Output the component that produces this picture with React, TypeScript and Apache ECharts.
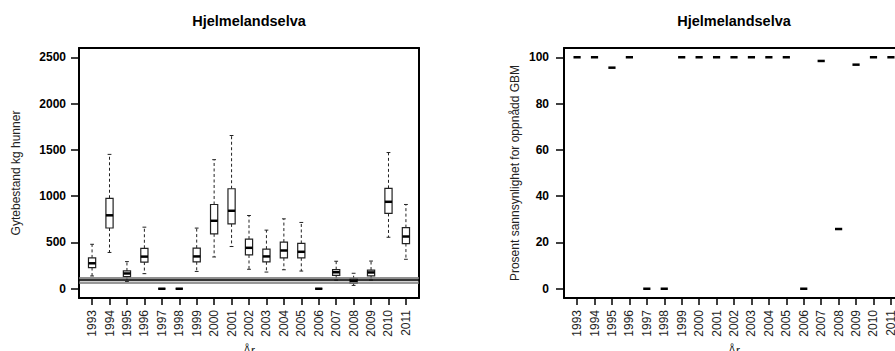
import React, { useEffect, useRef } from "react";
import * as echarts from "echarts";

const years = ["1993", "1994", "1995", "1996", "1997", "1998", "1999", "2000", "2001", "2002", "2003", "2004", "2005", "2006", "2007", "2008", "2009", "2010", "2011"];
const whiskerLow = [138, 392, 79, 163, 0, 0, 187, 343, 456, 210, 180, 205, 191, 0, 93, 36, 94, 556, 318];
const quartile1 = [229, 656, 130, 288, 0, 0, 291, 593, 700, 365, 291, 334, 334, 0, 144, 61, 140, 813, 488];
const medians = [275, 793, 165, 347, 0, 0, 349, 734, 842, 442, 349, 413, 399, 0, 178, 86, 176, 939, 564];
const quartile3 = [333, 977, 192, 437, 0, 0, 439, 910, 1080, 536, 428, 504, 489, 0, 206, 108, 202, 1084, 660];
const whiskerHigh = [480, 1451, 293, 665, 0, 0, 655, 1394, 1655, 791, 633, 755, 716, 0, 297, 167, 299, 1471, 910];
const probability = [100, 100, 95.5, 100, 0, 0, 100, 100, 100, 100, 100, 100, 100, 0, 98.4, 25.8, 96.8, 100, 100];
const targetLines = [70, 97, 124];
const stockTicks = [0, 500, 1000, 1500, 2000, 2500];
const probTicks = [0, 20, 40, 60, 80, 100];

const TITLE = "Hjelmelandselva";
const FONT = "'Liberation Sans', Arial, Helvetica, sans-serif";
const positions = years.map((_, i) => i + 1);

const HALF_BOX = 3.6;
const HALF_CAP = 1.9;

function renderBox(_params: any, api: any) {
  const x = api.value(0);
  const lo = api.coord([x, api.value(1)]);
  const q1 = api.coord([x, api.value(2)]);
  const md = api.coord([x, api.value(3)]);
  const q3 = api.coord([x, api.value(4)]);
  const hi = api.coord([x, api.value(5)]);
  const cx = md[0];
  const dash = { stroke: "#222", lineWidth: 1, lineDash: [3, 2.5] };
  const solid = { stroke: "#222", lineWidth: 1 };
  return {
    type: "group",
    children: [
      { type: "line", shape: { x1: cx, y1: q3[1], x2: cx, y2: hi[1] }, style: dash },
      { type: "line", shape: { x1: cx, y1: q1[1], x2: cx, y2: lo[1] }, style: dash },
      { type: "line", shape: { x1: cx - HALF_CAP, y1: hi[1], x2: cx + HALF_CAP, y2: hi[1] }, style: solid },
      { type: "line", shape: { x1: cx - HALF_CAP, y1: lo[1], x2: cx + HALF_CAP, y2: lo[1] }, style: solid },
      {
        type: "rect",
        shape: { x: cx - HALF_BOX, y: q3[1], width: 2 * HALF_BOX, height: q1[1] - q3[1] },
        style: { fill: "#fff", stroke: "#222", lineWidth: 1.2 },
      },
      { type: "line", shape: { x1: cx - HALF_BOX, y1: md[1], x2: cx + HALF_BOX, y2: md[1] }, style: { stroke: "#000", lineWidth: 2.5 } },
    ],
  };
}

function renderMedian(_params: any, api: any) {
  const p = api.coord([api.value(0), api.value(1)]);
  return {
    type: "line",
    shape: { x1: p[0] - HALF_BOX, y1: p[1], x2: p[0] + HALF_BOX, y2: p[1] },
    style: { stroke: "#000", lineWidth: 2.5 },
  };
}

const frameLine = { show: true, onZero: false, lineStyle: { color: "#000", width: 2 } };

function xAxisFor(gridIndex: number) {
  return {
    type: "value",
    gridIndex,
    position: "bottom",
    min: 0.25,
    max: 19.75,
    name: "År",
    nameLocation: "middle",
    nameGap: 47,
    nameTextStyle: { fontFamily: FONT, fontSize: 12, color: "#222" },
    axisLine: frameLine,
    splitLine: { show: false },
    axisTick: { show: true, length: 7, lineStyle: { color: "#000", width: 1.5 }, customValues: positions },
    axisLabel: {
      show: true,
      rotate: 90,
      margin: 12,
      fontFamily: FONT,
      fontSize: 12,
      color: "#222",
      customValues: positions,
      formatter: (v: number) => years[Math.round(v) - 1] ?? "",
    },
  };
}

function xFrameFor(gridIndex: number) {
  return {
    type: "value",
    gridIndex,
    position: "top",
    min: 0.25,
    max: 19.75,
    axisLine: frameLine,
    axisTick: { show: false },
    axisLabel: { show: false },
    splitLine: { show: false },
  };
}

function yAxisFor(gridIndex: number, min: number, max: number, ticks: number[], name: string, gap: number, margin: number) {
  return {
    type: "value",
    gridIndex,
    position: "left",
    min,
    max,
    name,
    nameLocation: "middle",
    nameGap: gap,
    nameTextStyle: { fontFamily: FONT, fontSize: 12, color: "#222" },
    axisLine: frameLine,
    splitLine: { show: false },
    axisTick: { show: true, length: 8, lineStyle: { color: "#000", width: 1.5 }, customValues: ticks },
    axisLabel: {
      show: true,
      margin,
      fontFamily: FONT,
      fontSize: 12,
      fontWeight: "bold",
      color: "#000",
      customValues: ticks,
      formatter: (v: number) => String(v),
    },
  };
}

function yFrameFor(gridIndex: number, min: number, max: number) {
  return {
    type: "value",
    gridIndex,
    position: "right",
    min,
    max,
    axisLine: frameLine,
    axisTick: { show: false },
    axisLabel: { show: false },
    splitLine: { show: false },
  };
}

export default function App() {
  const ref = useRef<HTMLDivElement>(null);
  useEffect(() => {
    if (!ref.current) return;
    const chart = echarts.init(ref.current, null, { renderer: "svg" });
    const boxData = years.map((_, i) => [i + 1, whiskerLow[i], quartile1[i], medians[i], quartile3[i], whiskerHigh[i]]);
    const probData = years.map((_, i) => [i + 1, probability[i]]);
    chart.setOption({
      animation: false,
      backgroundColor: "#fff",
      grid: [
        { left: 79, top: 48, width: 340, height: 250, outerBoundsMode: "none", containLabel: false },
        { left: 564, top: 48, width: 340, height: 250, outerBoundsMode: "none", containLabel: false },
      ],
      xAxis: [xAxisFor(0), xAxisFor(1), xFrameFor(0), xFrameFor(1)],
      yAxis: [
        yAxisFor(0, -100, 2600, stockTicks, "Gytebestand kg hunner", 57, 13),
        yAxisFor(1, -4, 104, probTicks, "Prosent sannsynlighet for oppnådd GBM", 43, 15),
        yFrameFor(0, -100, 2600),
        yFrameFor(1, -4, 104),
      ],
      graphic: [
        { type: "text", x: 249, y: 20.5, style: { text: TITLE, fontFamily: FONT, fontSize: 14.5, fontWeight: "bold", fill: "#000", textAlign: "center", textVerticalAlign: "middle" } },
        { type: "text", x: 734, y: 20.5, style: { text: TITLE, fontFamily: FONT, fontSize: 14.5, fontWeight: "bold", fill: "#000", textAlign: "center", textVerticalAlign: "middle" } },
      ],
      series: [
        {
          type: "custom",
          xAxisIndex: 0,
          yAxisIndex: 0,
          renderItem: renderBox,
          encode: { x: 0, y: [1, 2, 3, 4, 5] },
          data: boxData,
          silent: true,
          markLine: {
            silent: true,
            symbol: ["none", "none"],
            label: { show: false },
            z: 10,
            data: targetLines.map((v, i) => ({
              yAxis: v,
              lineStyle: { type: "solid", color: i === 1 ? "#000" : "#777", width: 1.5 },
            })),
          },
          markArea: {
            silent: true,
            itemStyle: { color: "rgba(150,150,150,0.45)" },
            data: [[{ yAxis: targetLines[0] }, { yAxis: targetLines[2] }]],
          },
        },
        {
          type: "custom",
          xAxisIndex: 1,
          yAxisIndex: 1,
          renderItem: renderMedian,
          encode: { x: 0, y: 1 },
          data: probData,
          silent: true,
        },
      ],
    });
    return () => chart.dispose();
  }, []);
  return <div ref={ref} style={{ position: "fixed", left: 0, top: 0, width: 895, height: 351 }} />;
}
